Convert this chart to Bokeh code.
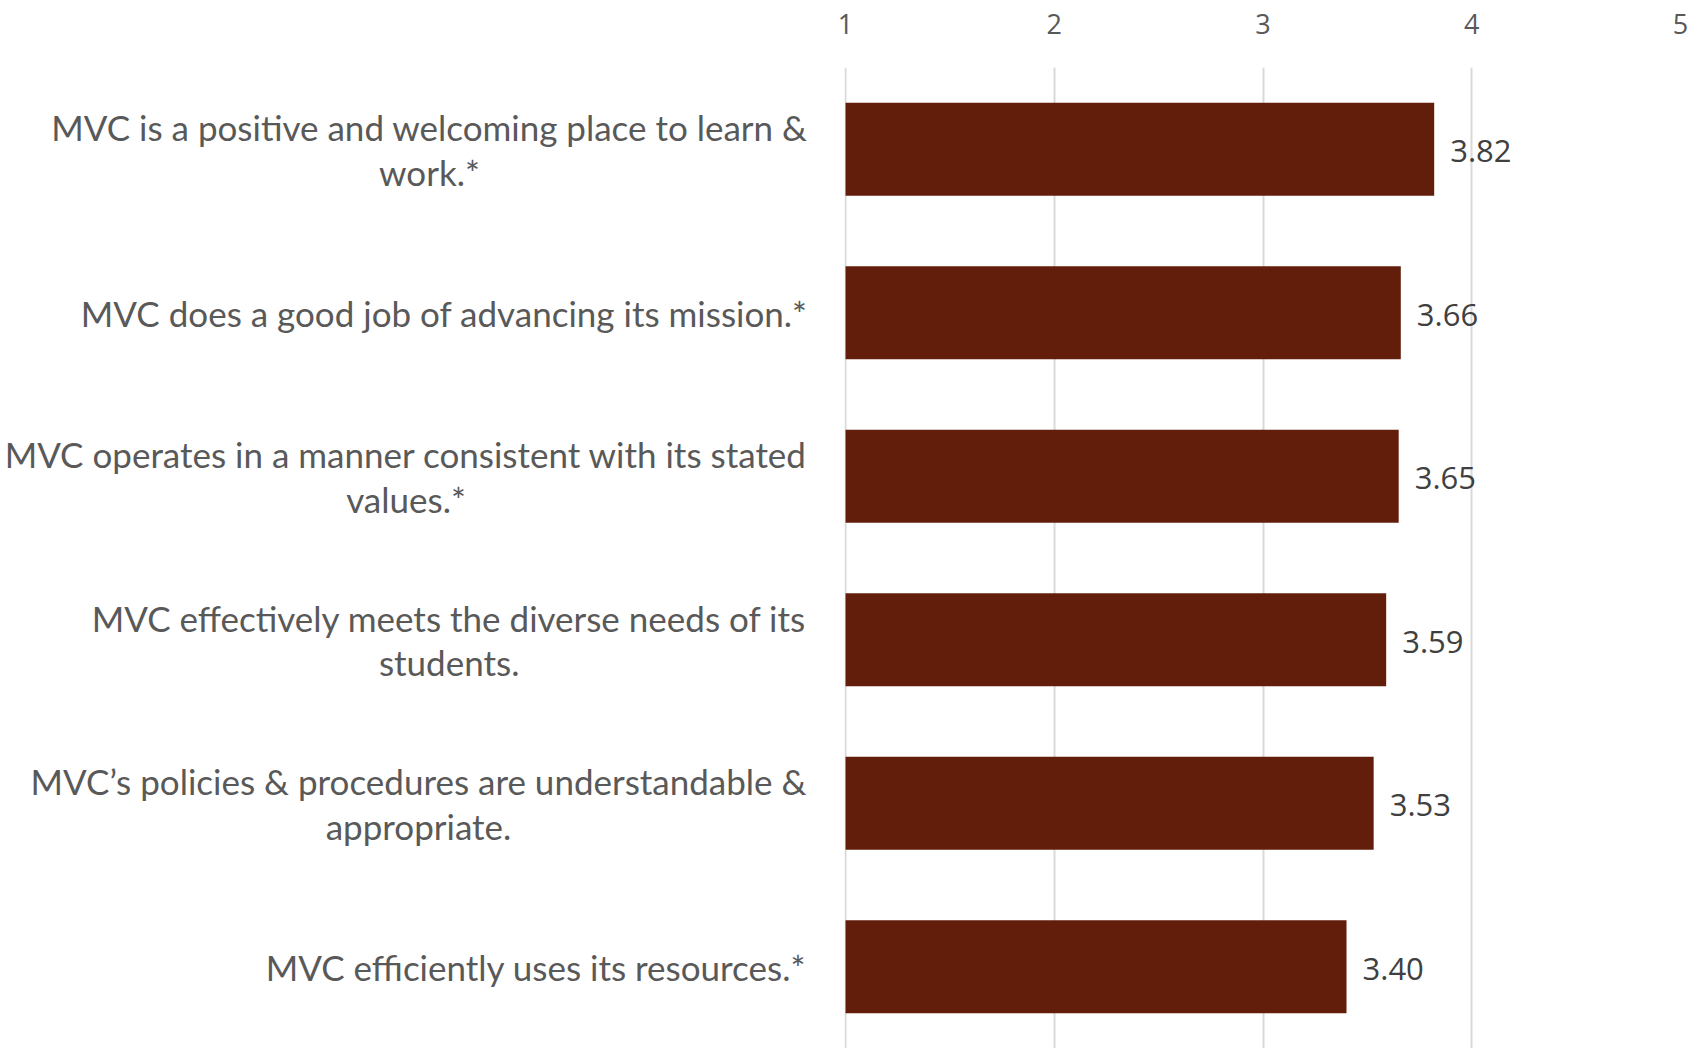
import glob
import struct
import numpy as np
from bokeh.plotting import figure
from bokeh.layouts import row
from bokeh.models import Range1d, FixedTicker, ColumnDataSource
from bokeh.core.properties import value
from bokeh.embed import file_html
from bokeh.resources import INLINE

# Data (top to bottom)
statements = [
    "MVC is a positive and welcoming place to learn &\nwork.*",
    "MVC does a good job of advancing its mission.*",
    "MVC operates in a manner consistent with its stated\nvalues.*",
    "MVC effectively meets the diverse needs of its\nstudents.",
    "MVC\u2019s policies & procedures are understandable &\nappropriate.",
    "MVC efficiently uses its resources.*",
]
scores = [3.82, 3.66, 3.65, 3.59, 3.53, 3.40]
score_labels = ["3.82", "3.66", "3.65", "3.59", "3.53", "3.40"]
x_ticks = [1, 2, 3, 4, 5]

CAT_FONT = "Lato"
CAT_SIZE = 35
LINE_GAP = 44.5
FRAME_LEFT = 844      # x of the plotting frame's left edge on the page
PAD = 24              # left border of the bar panel (room for tick label "1")
STANDOFF = 36         # gap between category labels and the frame
LEFT_W = FRAME_LEFT - PAD
H = 1048
TOP = 67


def make_measure(size):
    """Text width measurement from the installed font file (fallback: estimate)."""
    try:
        paths = glob.glob("/usr/share/fonts/**/Lato-Regular.*", recursive=True)
        data = open(paths[0], "rb").read()
        nt = struct.unpack(">H", data[4:6])[0]
        tables = {}
        for i in range(nt):
            tag, _, off, ln = struct.unpack(">4sIII", data[12 + 16 * i:28 + 16 * i])
            tables[tag.decode("latin1")] = off
        head = tables["head"]
        upem = struct.unpack(">H", data[head + 18:head + 20])[0]
        hhea = tables["hhea"]
        nhm = struct.unpack(">H", data[hhea + 34:hhea + 36])[0]
        hm = tables["hmtx"]
        adv = [struct.unpack(">H", data[hm + 4 * i:hm + 4 * i + 2])[0] for i in range(nhm)]
        cm = tables["cmap"]
        ns = struct.unpack(">H", data[cm + 2:cm + 4])[0]
        sub = None
        for i in range(ns):
            pid, eid, off = struct.unpack(">HHI", data[cm + 4 + 8 * i:cm + 12 + 8 * i])
            fmt = struct.unpack(">H", data[cm + off:cm + off + 2])[0]
            if fmt == 4 and (pid == 3 or pid == 0):
                sub = cm + off
        segx2 = struct.unpack(">H", data[sub + 6:sub + 8])[0]
        seg = segx2 // 2
        ends = struct.unpack(">%dH" % seg, data[sub + 14:sub + 14 + segx2])
        starts = struct.unpack(">%dH" % seg, data[sub + 16 + segx2:sub + 16 + 2 * segx2])
        deltas = struct.unpack(">%dh" % seg, data[sub + 16 + 2 * segx2:sub + 16 + 3 * segx2])
        rpos = sub + 16 + 3 * segx2
        roffs = struct.unpack(">%dH" % seg, data[rpos:rpos + segx2])

        def gid(c):
            for i in range(seg):
                if ends[i] >= c:
                    if starts[i] > c:
                        return 0
                    if roffs[i] == 0:
                        return (c + deltas[i]) & 0xFFFF
                    a = rpos + 2 * i + roffs[i] + 2 * (c - starts[i])
                    g = struct.unpack(">H", data[a:a + 2])[0]
                    return (g + deltas[i]) & 0xFFFF if g else 0
            return 0

        def measure(s):
            return sum(adv[min(gid(ord(ch)), nhm - 1)] for ch in s) * size / upem
        w = measure("MVC")
        if not (10 < w < 200):
            raise ValueError
        return measure
    except Exception:
        return lambda s: 0.47 * size * len(s)


measure = make_measure(CAT_SIZE)

n = len(statements)
ypos = list(n - np.arange(n) - 0.5)  # top item highest

src = ColumnDataSource(dict(y=ypos, score=scores, lab=score_labels, base=[1] * n))

# one row per text line of the category labels, lines centred within each label
line_txt, line_y, line_x, line_yoff = [], [], [], []
for y, s in zip(ypos, statements):
    lines = s.split("\n")
    wmax = max(measure(t) for t in lines)
    for k, t in enumerate(lines):
        line_txt.append(t)
        line_y.append(y)
        line_x.append(FRAME_LEFT - STANDOFF - wmax / 2.0)
        line_yoff.append((k - (len(lines) - 1) / 2.0) * LINE_GAP)
cat_src = ColumnDataSource(dict(t=line_txt, y=line_y, x=line_x, yo=line_yoff))

yr = Range1d(0, n)

# left panel holding the category labels
lp = figure(width=LEFT_W, height=H, output_backend="svg", toolbar_location=None,
            x_range=Range1d(0, LEFT_W), y_range=yr,
            min_border_left=0, min_border_right=0, min_border_top=TOP, min_border_bottom=0)
lp.axis.visible = False
lp.grid.visible = False
lp.outline_line_color = None
lp.text(x="x", y="y", text="t", y_offset="yo", source=cat_src,
        text_align="center", text_baseline="middle", text_color="#595959",
        text_font=value(CAT_FONT), text_font_size="%dpx" % CAT_SIZE)

p = figure(width=1694 - LEFT_W, height=H, output_backend="svg", toolbar_location=None,
           x_range=Range1d(0.995, 5), y_range=yr,
           x_axis_location="above", min_border_left=PAD, min_border_right=14,
           min_border_top=TOP, min_border_bottom=0)
p.outline_line_color = None
p.background_fill_color = "white"
p.border_fill_color = "white"

p.hbar(y="y", left="base", right="score", height=0.57, source=src,
       fill_color="#621E0B", line_color=None)

p.text(x="score", y="y", text="lab", source=src, x_offset=16, y_offset=2,
       text_baseline="middle", text_align="left", text_color="#404040",
       text_font=value("Open Sans"), text_font_size="31px")

# x axis (top)
xa = p.xaxis[0]
xa.ticker = FixedTicker(ticks=x_ticks)
xa.axis_line_color = None
xa.major_tick_line_color = None
xa.minor_tick_line_color = None
xa.major_label_text_color = "#595959"
xa.major_label_text_font = "Open Sans"
xa.major_label_text_font_size = "27px"
xa.major_label_standoff = 28

p.yaxis.visible = False

p.xgrid.ticker = FixedTicker(ticks=x_ticks)
p.xgrid.grid_line_color = "#D9D9D9"
p.xgrid.grid_line_width = 2
p.ygrid.grid_line_color = None

layout = row(lp, p, spacing=0)
open("out.html", "w").write(file_html(layout, INLINE))
